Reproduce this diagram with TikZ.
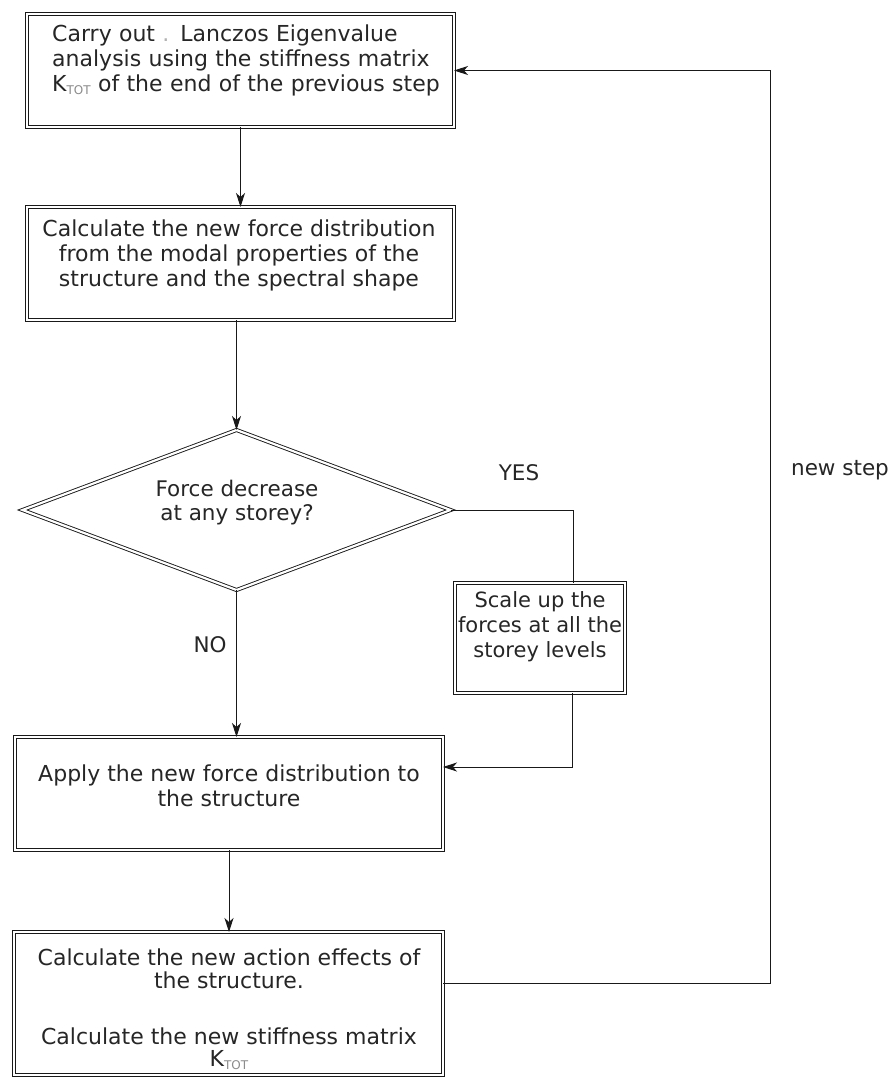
\documentclass[tikz,border=0pt]{standalone}
\usepackage{fontspec}
\setmainfont{DejaVu Sans}
\usetikzlibrary{arrows.meta,shapes.geometric,calc}
\newcommand\ktot{K\raisebox{-3pt}{\fontsize{12}{12}\selectfont\color{black!45}TOT}}
\begin{document}
\begin{tikzpicture}[x=1pt,y=-1pt,
  dbl/.style={draw=black!90, line width=0.9pt, double=white, double distance=2.2pt},
  boxnode/.style={dbl, rectangle, inner sep=0pt, outer sep=0pt},
  txt/.style={inner sep=0pt, font=\fontsize{22}{25}\selectfont, text=black!85},
  conn/.style={draw=black!90, line width=1pt},
  arr/.style={conn, -{Stealth[length=14pt,width=9pt,inset=4pt]}},
]
\useasboundingbox[fill=white] (0,0) rectangle (892,1078);

% boxes
\node[boxnode, minimum width=427pt, minimum height=113pt] (b1) at (240.5,70.5) {};
\node[boxnode, minimum width=427pt, minimum height=113pt] (b2) at (240.5,263.5) {};
\node[dbl, diamond, inner sep=0pt, outer sep=0pt, minimum width=428pt, minimum height=160pt] (d) at (236.5,510) {};
\node[boxnode, minimum width=170pt, minimum height=110pt] (b3) at (540,638) {};
\node[boxnode, minimum width=428pt, minimum height=113pt] (b4) at (229,793.5) {};
\node[boxnode, minimum width=429pt, minimum height=143pt] (b5) at (228.5,1003.5) {};

% texts
\node[txt, anchor=west, text width=400pt, align=left] (t1) at (52,60)
  {Carry out {\color{black!30}.} Lanczos Eigenvalue\\ analysis using the stiffness matrix\\ \ktot{} of the end of the previous step};
\node[txt, align=center] (t2) at (239,255)
  {Calculate the new force distribution\\ from the modal properties of the\\ structure and the spectral shape};
\node[txt, align=center, font=\fontsize{21.5}{24}\selectfont] (td) at (237,503) {Force decrease\\ at any storey?};
\node[txt, align=center, font=\fontsize{21}{25}\selectfont] (t3) at (540,627) {Scale up the\\ forces at all the\\ storey levels};
\node[txt, align=center] (t4) at (229,786) {Apply the new force distribution to\\ the structure};
\node[txt, align=center, font=\fontsize{22}{23}\selectfont] (t5a) at (229,968.5)
  {Calculate the new action effects of\\ the structure.};
\node[txt, align=center, font=\fontsize{22}{22}\selectfont] (t5b) at (229,1049)
  {Calculate the new stiffness matrix\\ \ktot};

% labels
\node[txt, font=\fontsize{21.5}{24}\selectfont] (yes) at (519,473) {YES};
\node[txt, font=\fontsize{21.5}{24}\selectfont] (no) at (210,645) {NO};
\node[txt, font=\fontsize{21.5}{24}\selectfont] (ns) at (840,470) {new step};

% connectors
\coordinate (lp) at (770,500);
\draw[arr] (b1.south) -- (b2.north);
\draw[arr] (d.north |- b2.south) -- (d.north);
\draw[arr] (d.south) -- (d.south |- b4.north);
\draw[arr] (b4.south) -- (b4.south |- b5.north);
\draw[conn] (d.east) -| ([xshift=33pt]b3.north);
\draw[arr] ([xshift=32pt]b3.south) |- ([yshift=26.5pt]b4.east);
\draw[arr] ([yshift=20.5pt]b5.east) -| (lp) |- (b1.east);
\end{tikzpicture}
\end{document}
